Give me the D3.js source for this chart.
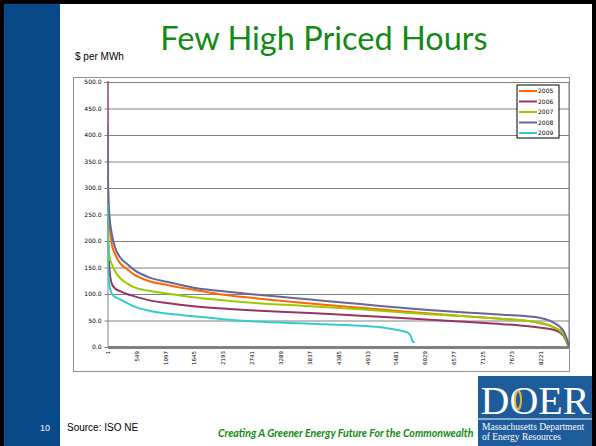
<!DOCTYPE html>
<html>
<head>
<meta charset="utf-8">
<script src="https://unpkg.com/d3@7/dist/d3.min.js"></script>
<style>
  body { margin: 0; background: #fff; }
  svg { display: block; }
</style>
</head>
<body>
<div id="slide"></div>
<script>
var hours = [1, 10, 40, 80, 150, 250, 370, 500, 800, 1130, 1630, 2100, 2800, 3850, 4800, 5740, 6800, 7500, 8080, 8450, 8650, 8740, 8760];
var p2005 = [260, 245, 228, 195, 174, 157, 147, 137, 124, 117, 108, 100, 92, 82, 74, 66, 58, 53, 47.5, 38, 25, 6, 2];
var p2006 = [520, 230, 145, 120, 110, 105, 100, 96, 88, 83, 77, 73, 69, 64, 59, 54, 47.5, 43, 38, 33, 22, 4, 0];
var p2007 = [300, 200, 170, 157, 142, 129, 120, 113, 106, 101, 94, 89, 83, 77, 71, 64, 58, 53, 47.5, 38, 25, 6, 2];
var p2008 = [420, 320, 245, 215, 186, 168, 157, 146, 131, 123, 112, 106, 99, 89.5, 81, 72.5, 65, 61, 57, 47, 31, 9, 2];
// 2009 is a partial year
var hours2009 = [1, 10, 20, 50, 110, 240, 370, 490, 810, 1130, 1630, 2140, 2800, 3850, 4800, 5100, 5400, 5550, 5700, 5760, 5790, 5835];
var p2009 = [270, 170, 132, 110, 97, 90, 83, 77, 68, 63, 58, 53, 48, 44, 40, 38, 34, 31, 27, 20, 11, 9];

var years = ["2005", "2006", "2007", "2008", "2009"];
var colors = ["#FF6600", "#993366", "#99CC00", "#666699", "#33CCCC"];
var yTicks = [0, 50, 100, 150, 200, 250, 300, 350, 400, 450, 500];
var xLabels = [1, 549, 1097, 1645, 2193, 2741, 3289, 3837, 4385, 4933, 5481, 6029, 6577, 7125, 7673, 8221];

var series = [
  { name: years[0], h: hours, v: p2005 },
  { name: years[1], h: hours, v: p2006 },
  { name: years[2], h: hours, v: p2007 },
  { name: years[3], h: hours, v: p2008 },
  { name: years[4], h: hours2009, v: p2009 }
];

var width = 596, height = 446;
var svg = d3.select("#slide").append("svg")
  .attr("width", width).attr("height", height);

// slide background + left band
svg.append("rect").attr("x", 0).attr("y", 0).attr("width", width).attr("height", height).attr("fill", "#fff");
svg.append("rect").attr("x", 4).attr("y", 0).attr("width", 56).attr("height", height).attr("fill", "#084a8a");
// black edges of the screenshot
svg.append("rect").attr("x", 0).attr("y", 0).attr("width", 4).attr("height", height).attr("fill", "#000");
svg.append("rect").attr("x", 0).attr("y", 0).attr("width", width).attr("height", 4).attr("fill", "#000");
svg.append("rect").attr("x", width - 4).attr("y", 0).attr("width", 4).attr("height", height).attr("fill", "#000");

// title
svg.append("text")
  .attr("x", 324).attr("y", 50)
  .attr("text-anchor", "middle")
  .attr("font-family", "Lato, 'Open Sans', sans-serif")
  .attr("font-size", 32.5)
  .attr("fill", "#138a13")
  .text("Few High Priced Hours");

svg.append("text")
  .attr("x", 75).attr("y", 60)
  .attr("font-family", "'Liberation Sans', Arial, sans-serif")
  .attr("font-size", 10)
  .attr("fill", "#000")
  .text("$ per MWh");

// chart area frame
svg.append("rect")
  .attr("x", 73.5).attr("y", 77.5).attr("width", 496).attr("height", 294)
  .attr("fill", "#fff").attr("stroke", "#909090").attr("stroke-width", 1);

var plot = { left: 107.5, right: 569, top: 82, bottom: 347 };

var x = d3.scaleLinear().domain([1, 8760]).range([plot.left, plot.right]);
var y = d3.scaleLinear().domain([0, 500]).range([plot.bottom, plot.top]);

// gridlines
svg.append("g")
  .attr("transform", "translate(" + plot.left + ",0)")
  .call(d3.axisLeft(y).tickValues(yTicks.slice(1)).tickSize(-(plot.right - plot.left)).tickFormat(""))
  .call(function (g) {
    g.select(".domain").remove();
    g.selectAll("line").attr("stroke", "#808080").attr("stroke-width", 1);
  });

// right border of the plot area
svg.append("line")
  .attr("x1", plot.right).attr("x2", plot.right)
  .attr("y1", plot.top).attr("y2", plot.bottom)
  .attr("stroke", "#808080");

// y axis
svg.append("g")
  .attr("transform", "translate(" + plot.left + ",0)")
  .call(d3.axisLeft(y).tickValues(yTicks).tickSize(3).tickPadding(3).tickFormat(d3.format(".1f")))
  .call(function (g) {
    g.select(".domain").attr("stroke", "#808080");
    g.selectAll("line").attr("stroke", "#808080");
    g.selectAll("text")
      .attr("font-family", "'DejaVu Sans', Verdana, sans-serif")
      .attr("font-size", 6)
      .attr("fill", "#000");
  });

// lines
svg.append("clipPath").attr("id", "clip")
  .append("rect")
  .attr("x", plot.left).attr("y", plot.top - 1)
  .attr("width", plot.right - plot.left + 1).attr("height", plot.bottom - plot.top + 2);

var line = d3.line().curve(d3.curveMonotoneX);

svg.append("g").attr("clip-path", "url(#clip)")
  .selectAll("path")
  .data(series)
  .enter().append("path")
  .attr("fill", "none")
  .attr("stroke", function (d, i) { return colors[i]; })
  .attr("stroke-width", 2)
  .attr("stroke-linejoin", "round")
  .attr("d", function (d) {
    return line(d.h.map(function (h, i) { return [x(h), y(d.v[i])]; }));
  });

// x axis
svg.append("g")
  .attr("transform", "translate(0," + plot.bottom + ")")
  .call(d3.axisBottom(x).tickValues(xLabels).tickSize(0).tickPadding(0).tickFormat(d3.format("d")))
  .call(function (g) {
    g.select(".domain").attr("stroke", "#808080").attr("stroke-width", 3);
    g.selectAll("text")
      .attr("font-family", "'DejaVu Sans', Verdana, sans-serif")
      .attr("font-size", 5.5)
      .attr("fill", "#000")
      .attr("text-anchor", "end")
      .attr("dy", "0.32em")
      .attr("transform", "translate(0,4) rotate(-90)")
      .attr("x", 0).attr("y", 0);
  });

// legend
var legend = svg.append("g").attr("transform", "translate(517,85)");
legend.append("rect")
  .attr("x", 0).attr("y", 0).attr("width", 42).attr("height", 53)
  .attr("fill", "#fff").attr("stroke", "#000").attr("stroke-width", 1);
var items = legend.selectAll("g.item").data(years).enter().append("g")
  .attr("transform", function (d, i) { return "translate(0," + (6 + i * 10.5) + ")"; });
items.append("line")
  .attr("x1", 2).attr("x2", 20)
  .attr("stroke", function (d, i) { return colors[i]; })
  .attr("stroke-width", 2);
items.append("text")
  .attr("x", 21).attr("dy", "0.35em")
  .attr("font-family", "'DejaVu Sans', Verdana, sans-serif")
  .attr("font-size", 6)
  .attr("fill", "#000")
  .text(function (d) { return d; });

// footer
svg.append("text")
  .attr("x", 40).attr("y", 431)
  .attr("font-family", "'Liberation Sans', Arial, sans-serif")
  .attr("font-size", 9).attr("fill", "#fff")
  .text("10");
svg.append("text")
  .attr("x", 67).attr("y", 431)
  .attr("font-family", "'Liberation Sans', Arial, sans-serif")
  .attr("font-size", 10).attr("fill", "#000")
  .text("Source: ISO NE");
svg.append("text")
  .attr("x", 218).attr("y", 437)
  .attr("font-family", "Lato, 'Open Sans', sans-serif")
  .attr("font-size", 10.6).attr("font-weight", "bold").attr("font-style", "italic")
  .attr("fill", "#138a13")
  .text("Creating A Greener Energy Future For the Commonwealth");

// DOER logo
var logo = svg.append("g").attr("transform", "translate(478,376)");
logo.append("rect").attr("x", 0).attr("y", 0).attr("width", 114).attr("height", 70).attr("fill", "#1d5b9b");
logo.append("text")
  .attr("x", 57).attr("y", 38)
  .attr("text-anchor", "middle")
  .attr("font-family", "'Liberation Serif', 'DejaVu Serif', serif")
  .attr("font-size", 40)
  .attr("fill", "#fff")
  .text("DOER");
logo.append("ellipse")
  .attr("cx", 40).attr("cy", 24).attr("rx", 3).attr("ry", 9)
  .attr("fill", "none").attr("stroke", "#d9b84a").attr("stroke-width", 2);
logo.append("line")
  .attr("x1", 0).attr("x2", 114).attr("y1", 43).attr("y2", 43)
  .attr("stroke", "#fff").attr("stroke-width", 1);
logo.append("text")
  .attr("x", 4).attr("y", 54)
  .attr("font-family", "'Liberation Serif', 'DejaVu Serif', serif")
  .attr("font-size", 9.5).attr("fill", "#fff")
  .text("Massachusetts Department");
logo.append("text")
  .attr("x", 4).attr("y", 64)
  .attr("font-family", "'Liberation Serif', 'DejaVu Serif', serif")
  .attr("font-size", 9.5).attr("fill", "#fff")
  .text("of Energy Resources");
</script>
</body>
</html>
